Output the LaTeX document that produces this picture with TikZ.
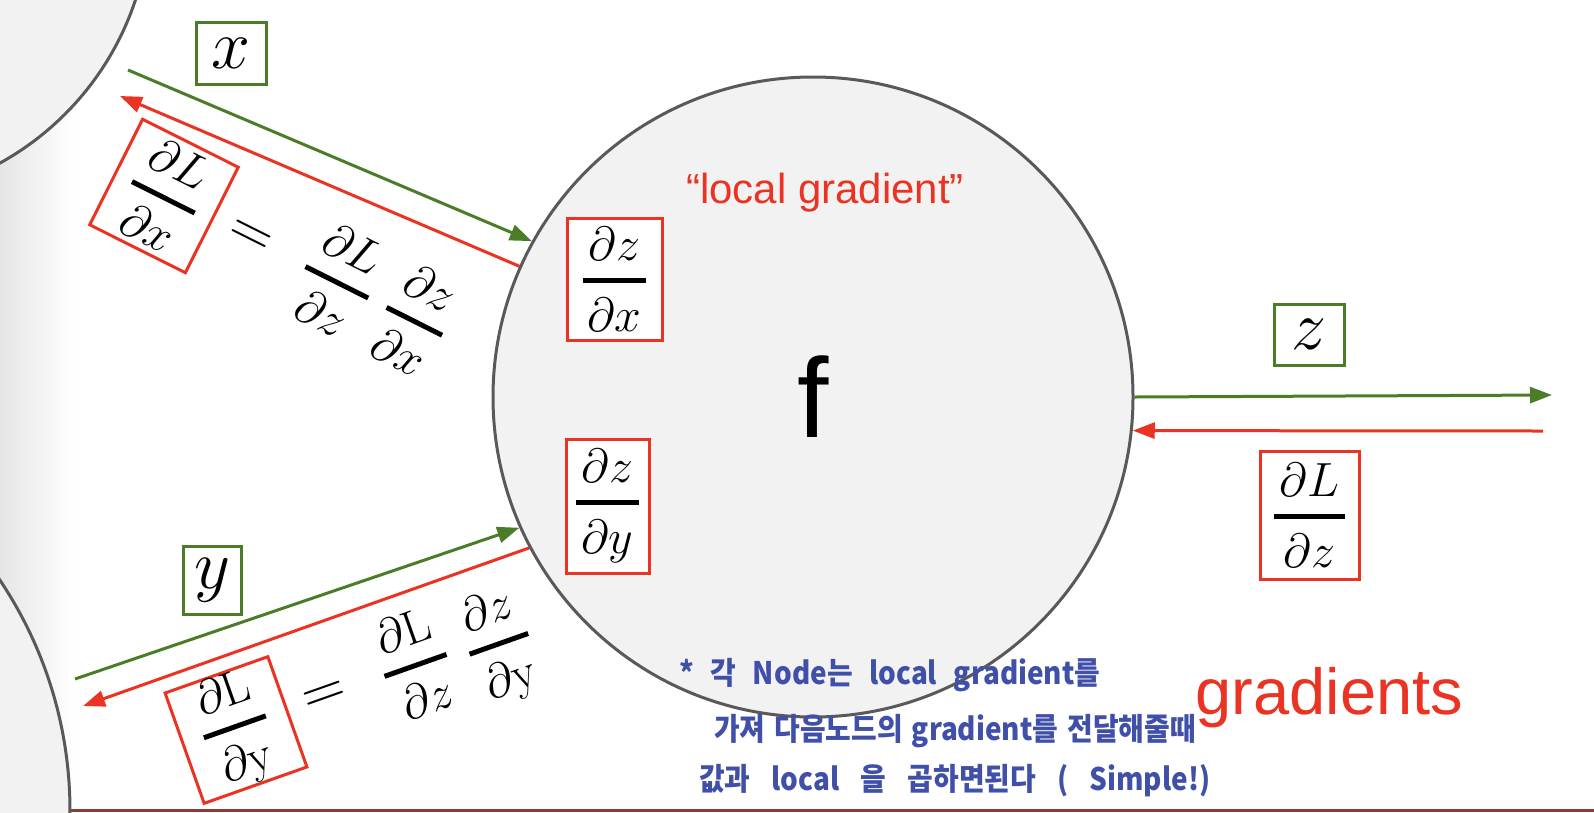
\RequirePackage{fix-cm}
\documentclass[tikz,border=0pt]{standalone}
\usepackage{amsmath}
\usepackage{fontspec}
\newfontfamily\arialf{Liberation Sans}
\newfontfamily\krf{Noto Sans CJK KR}
\usetikzlibrary{arrows.meta}
\definecolor{gr}{HTML}{4B7D28}
\definecolor{rd}{HTML}{EA3323}
\definecolor{circgray}{HTML}{595959}
\definecolor{circfill}{HTML}{F2F2F2}
\definecolor{hand}{HTML}{4050A8}
\definecolor{barred}{HTML}{8E3B38}
\newcommand\pfr[2]{\genfrac{}{}{5pt}{0}{\mkern2mu\partial #1\mkern2mu}{\partial #2}}
\begin{document}
\begin{tikzpicture}[x=1pt,y=-1pt,
  mfont/.style={font=\fontsize{48}{58}\selectfont},
  efont/.style={font=\fontsize{60}{70}\selectfont},
  vfont/.style={font=\fontsize{70}{80}\selectfont},
  gbox/.style={draw=gr,line width=3pt,fill=white,inner sep=0pt},
  rbox/.style={draw=rd,line width=3pt,fill=white,inner sep=0pt,mfont},
  garr/.style={draw=gr,line width=3pt,-{Triangle[length=22pt,width=16pt]}},
  rarr/.style={draw=rd,line width=3pt,-{Triangle[length=22pt,width=16pt]}},
  bigcirc/.style={circle,draw=circgray,fill=circfill,line width=3pt},
  handw/.style={font=\krf\bfseries\fontsize{31}{34}\selectfont,text=hand,anchor=base west,inner sep=0pt,xscale=0.9}]
\useasboundingbox (0,0) rectangle (1594,812);
\clip (0,0) rectangle (1594,812);
\fill[white] (0,0) rectangle (1594,812);
\shade[left color=black!10,right color=white] (0,0) rectangle (75,812);
\draw[barred,line width=2.5pt] (0,810.5) -- (1594,810.5);
% side circles
\node[bigcirc,minimum size=580pt] (cA) at (-140,-91) {};
\node[bigcirc,minimum size=830pt] (cB) at (-345,811) {};
% main node
\node[bigcirc,minimum size=640pt,font=\arialf\fontsize{113}{120}\selectfont] (fn) at (813,397) {f};
\node[font=\arialf\fontsize{42}{48}\selectfont,text=rd,anchor=base] (lg) at (825,203) {“local gradient”};
\node[rbox,minimum width=95pt,minimum height=122pt] (dzdx) at (614.5,279) {$\pfr{z}{x}$};
\node[rbox,minimum width=83pt,minimum height=134pt] (dzdy) at (607.5,506) {$\pfr{z}{y}$};
% right side
\node[gbox,vfont,minimum width=70pt,minimum height=61pt] (zb) at (1309,334.5) {$z$};
\node[rbox,minimum width=99pt,minimum height=128pt] (dLdz) at (1309.5,515) {$\pfr{L}{z}$};
\coordinate (zs) at (1552,395);
\coordinate (ze) at (1543,431);
\draw[garr] (fn.east) -- (zs);
\draw[rarr] (ze) -- (fn.-6.1);
% top input x
\node[gbox,vfont,minimum width=70pt,minimum height=62pt] (xb) at (231,53) {$x$};
\coordinate (xs) at (128,70);
\coordinate (xe) at (120,96);
\draw[garr] (xs) -- (fn.151);
\draw[rarr] (fn.156.3) -- (xe);
\node[rbox,rotate=-26.6,minimum width=107pt,minimum height=118pt] (dLdx) at (164,196) {$\pfr{L}{x}$};
\node[efont,rotate=-26.6] (eqx) at (250,238) {$=$};
\node[mfont,rotate=-26.6] (fx1) at (337.5,281) {$\pfr{L}{z}$};
\node[mfont,rotate=-26.6] (fx2) at (415,320) {$\pfr{z}{x}$};
% bottom input y
\node[gbox,vfont,minimum width=58pt,minimum height=68pt] (yb) at (212,580) {$y$};
\coordinate (ys) at (75,679);
\coordinate (ye) at (83,706);
\draw[garr] (ys) -- (fn.204.3);
\draw[rarr] (fn.208.6) -- (ye);
\node[rbox,rotate=19.5,minimum width=109pt,minimum height=117pt] (dLdy) at (236,730) {$\pfr{\mathrm{L}}{\mathrm{y}}$};
\node[efont,rotate=19.5] (eqy) at (325,697) {$=$};
\node[mfont,rotate=19.5] (fy1) at (415,664) {$\pfr{\mathrm{L}}{z}$};
\node[mfont,rotate=19.5] (fy2) at (500,647) {$\pfr{z}{\mathrm{y}}$};
% gradients label
\node[font=\arialf\fontsize{65}{72}\selectfont,text=rd,anchor=base] (gl) at (1329.5,714) {gradients};
% handwritten note
\node[handw] (h1) at (679,684) {\makebox[468pt][s]{* 각 Node는 local gradient를}};
\node[handw] (h2) at (714,740) {\makebox[535pt][s]{가져 다음노드의 gradient를 전달해줄때}};
\node[handw] (h3) at (699,790) {\makebox[568pt][s]{값과 local 을 곱하면된다 ( Simple!)}};
\end{tikzpicture}
\end{document}
